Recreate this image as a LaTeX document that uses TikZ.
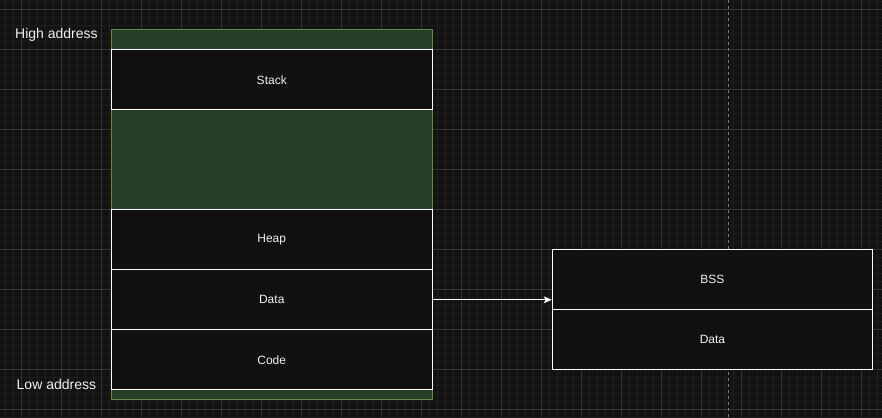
\documentclass[tikz,border=0pt]{standalone}
\usepackage{fontspec}
\setmainfont{Liberation Sans}
\usetikzlibrary{arrows.meta}
\definecolor{bg}{RGB}{18,18,18}
\definecolor{gridminor}{RGB}{30,30,30}
\definecolor{gridmajor}{RGB}{50,50,50}
\definecolor{greenfill}{RGB}{38,61,39}
\definecolor{greenline}{RGB}{96,140,72}
\definecolor{boxfill}{RGB}{17,17,17}
\definecolor{txt}{RGB}{240,240,240}
\tikzset{
  seg/.style={draw=white, fill=boxfill, line width=1pt, minimum width=320.5pt, minimum height=60pt, inner sep=0pt, anchor=north west, text=txt, font=\fontsize{12}{14}\selectfont},
  region/.style={draw=greenline, fill=greenfill, line width=1pt, inner sep=0pt, anchor=north west},
  addr/.style={text=txt, font=\fontsize{14}{16}\selectfont, inner sep=0pt, anchor=west},
  conn/.style={draw=white, line width=1pt, -{Stealth[length=8pt,width=7pt,inset=2pt]}}
}
\begin{document}
\begin{tikzpicture}[x=1pt,y=-1pt]
\useasboundingbox (0,0) rectangle (882,417);
\fill[bg] (0,0) rectangle (882,417);
% minor grid
\foreach \i in {0,...,110} \draw[gridminor, line width=0.6pt] ({5.3+8*\i},0) -- ({5.3+8*\i},417);
\foreach \j in {0,...,52} \draw[gridminor, line width=0.6pt] (0,{1.3+8*\j}) -- (882,{1.3+8*\j});
% major grid
\foreach \i in {0,...,21} \draw[gridmajor, line width=1pt] ({21.3+40*\i},0) -- ({21.3+40*\i},417);
\foreach \j in {0,...,10} \draw[gridmajor, line width=1pt] (0,{9.3+40*\j}) -- (882,{9.3+40*\j});
% page break line
\draw[color={rgb,255:red,120;green,120;blue,120}, line width=1pt, dash pattern=on 3pt off 3pt] (728.3,0) -- (728.3,417);

% memory layout
\node[region, minimum width=320.5pt, minimum height=370pt] (mem) at (111,29.3) {};
\node[seg] (stack) at (111,49.3) {Stack};
\node[seg] (heap) at (111,209.3) {Heap};
\node[seg] (data) at (111,269.3) {Data};
\node[seg] (code) at (111,329.3) {Code};

\node[seg] (bss) at (551.7,249.3) {BSS};
\node[seg] (data2) at (551.7,309.3) {Data};

\node[addr] (high) at (15,35) {High address};
\node[addr] (low) at (16.5,384.5) {Low address};

\draw[conn] (data.east) -- (data.east -| bss.west);
\end{tikzpicture}
\end{document}
